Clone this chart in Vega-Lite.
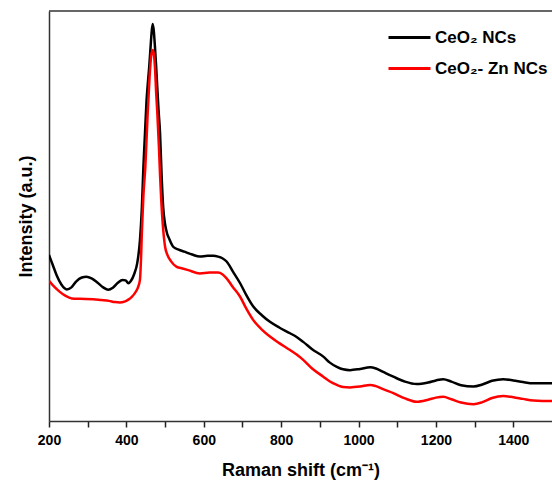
{
  "$schema": "https://vega.github.io/schema/vega-lite/v6.json",
  "width": 503,
  "height": 410,
  "autosize": "none",
  "padding": {"left": 49, "top": 11, "right": 0, "bottom": 69},
  "background": "white",
  "config": {
    "view": {"stroke": null},
    "font": "Liberation Sans",
    "axis": {"grid": false}
  },
  "datasets": {
    "spectra": [
      {"shift": 200, "intensity": 40.5, "sample": "CeO₂ NCs"},
      {"shift": 210, "intensity": 38.0, "sample": "CeO₂ NCs"},
      {"shift": 220, "intensity": 35.5, "sample": "CeO₂ NCs"},
      {"shift": 232, "intensity": 33.3, "sample": "CeO₂ NCs"},
      {"shift": 246, "intensity": 32.1, "sample": "CeO₂ NCs"},
      {"shift": 258, "intensity": 32.6, "sample": "CeO₂ NCs"},
      {"shift": 270, "intensity": 34.0, "sample": "CeO₂ NCs"},
      {"shift": 285, "intensity": 35.0, "sample": "CeO₂ NCs"},
      {"shift": 297, "intensity": 35.2, "sample": "CeO₂ NCs"},
      {"shift": 310, "intensity": 34.8, "sample": "CeO₂ NCs"},
      {"shift": 325, "intensity": 33.8, "sample": "CeO₂ NCs"},
      {"shift": 340, "intensity": 32.6, "sample": "CeO₂ NCs"},
      {"shift": 353, "intensity": 32.0, "sample": "CeO₂ NCs"},
      {"shift": 365, "intensity": 32.5, "sample": "CeO₂ NCs"},
      {"shift": 378, "intensity": 33.7, "sample": "CeO₂ NCs"},
      {"shift": 390, "intensity": 34.4, "sample": "CeO₂ NCs"},
      {"shift": 398, "intensity": 34.3, "sample": "CeO₂ NCs"},
      {"shift": 405, "intensity": 33.6, "sample": "CeO₂ NCs"},
      {"shift": 412, "intensity": 34.2, "sample": "CeO₂ NCs"},
      {"shift": 420, "intensity": 35.8, "sample": "CeO₂ NCs"},
      {"shift": 428, "intensity": 38.5, "sample": "CeO₂ NCs"},
      {"shift": 435, "intensity": 44.0, "sample": "CeO₂ NCs"},
      {"shift": 440, "intensity": 52.0, "sample": "CeO₂ NCs"},
      {"shift": 444, "intensity": 62.0, "sample": "CeO₂ NCs"},
      {"shift": 448, "intensity": 70.0, "sample": "CeO₂ NCs"},
      {"shift": 452, "intensity": 78.0, "sample": "CeO₂ NCs"},
      {"shift": 456, "intensity": 83.0, "sample": "CeO₂ NCs"},
      {"shift": 459, "intensity": 86.4, "sample": "CeO₂ NCs"},
      {"shift": 462, "intensity": 90.5, "sample": "CeO₂ NCs"},
      {"shift": 465, "intensity": 94.5, "sample": "CeO₂ NCs"},
      {"shift": 468, "intensity": 96.8, "sample": "CeO₂ NCs"},
      {"shift": 471, "intensity": 95.0, "sample": "CeO₂ NCs"},
      {"shift": 474, "intensity": 91.0, "sample": "CeO₂ NCs"},
      {"shift": 477, "intensity": 86.4, "sample": "CeO₂ NCs"},
      {"shift": 480, "intensity": 81.0, "sample": "CeO₂ NCs"},
      {"shift": 483, "intensity": 76.0, "sample": "CeO₂ NCs"},
      {"shift": 487, "intensity": 70.2, "sample": "CeO₂ NCs"},
      {"shift": 491, "intensity": 60.0, "sample": "CeO₂ NCs"},
      {"shift": 495, "intensity": 52.3, "sample": "CeO₂ NCs"},
      {"shift": 500, "intensity": 48.0, "sample": "CeO₂ NCs"},
      {"shift": 505, "intensity": 45.8, "sample": "CeO₂ NCs"},
      {"shift": 510, "intensity": 44.6, "sample": "CeO₂ NCs"},
      {"shift": 521, "intensity": 42.5, "sample": "CeO₂ NCs"},
      {"shift": 535, "intensity": 41.8, "sample": "CeO₂ NCs"},
      {"shift": 550, "intensity": 41.3, "sample": "CeO₂ NCs"},
      {"shift": 570, "intensity": 40.6, "sample": "CeO₂ NCs"},
      {"shift": 590, "intensity": 40.1, "sample": "CeO₂ NCs"},
      {"shift": 610, "intensity": 40.3, "sample": "CeO₂ NCs"},
      {"shift": 625, "intensity": 40.3, "sample": "CeO₂ NCs"},
      {"shift": 637, "intensity": 40.1, "sample": "CeO₂ NCs"},
      {"shift": 648, "intensity": 39.7, "sample": "CeO₂ NCs"},
      {"shift": 659, "intensity": 38.9, "sample": "CeO₂ NCs"},
      {"shift": 675, "intensity": 36.5, "sample": "CeO₂ NCs"},
      {"shift": 694, "intensity": 33.6, "sample": "CeO₂ NCs"},
      {"shift": 710, "intensity": 30.7, "sample": "CeO₂ NCs"},
      {"shift": 728, "intensity": 27.9, "sample": "CeO₂ NCs"},
      {"shift": 750, "intensity": 25.8, "sample": "CeO₂ NCs"},
      {"shift": 771, "intensity": 24.2, "sample": "CeO₂ NCs"},
      {"shift": 795, "intensity": 22.8, "sample": "CeO₂ NCs"},
      {"shift": 823, "intensity": 21.4, "sample": "CeO₂ NCs"},
      {"shift": 840, "intensity": 20.5, "sample": "CeO₂ NCs"},
      {"shift": 857, "intensity": 19.3, "sample": "CeO₂ NCs"},
      {"shift": 880, "intensity": 17.5, "sample": "CeO₂ NCs"},
      {"shift": 909, "intensity": 15.7, "sample": "CeO₂ NCs"},
      {"shift": 925, "intensity": 14.3, "sample": "CeO₂ NCs"},
      {"shift": 944, "intensity": 13.2, "sample": "CeO₂ NCs"},
      {"shift": 960, "intensity": 12.6, "sample": "CeO₂ NCs"},
      {"shift": 978, "intensity": 12.4, "sample": "CeO₂ NCs"},
      {"shift": 1004, "intensity": 12.7, "sample": "CeO₂ NCs"},
      {"shift": 1030, "intensity": 13.1, "sample": "CeO₂ NCs"},
      {"shift": 1045, "intensity": 12.8, "sample": "CeO₂ NCs"},
      {"shift": 1065, "intensity": 11.9, "sample": "CeO₂ NCs"},
      {"shift": 1090, "intensity": 10.8, "sample": "CeO₂ NCs"},
      {"shift": 1120, "intensity": 9.6, "sample": "CeO₂ NCs"},
      {"shift": 1150, "intensity": 9.0, "sample": "CeO₂ NCs"},
      {"shift": 1180, "intensity": 9.4, "sample": "CeO₂ NCs"},
      {"shift": 1200, "intensity": 9.9, "sample": "CeO₂ NCs"},
      {"shift": 1219, "intensity": 10.2, "sample": "CeO₂ NCs"},
      {"shift": 1240, "intensity": 9.6, "sample": "CeO₂ NCs"},
      {"shift": 1265, "intensity": 8.7, "sample": "CeO₂ NCs"},
      {"shift": 1297, "intensity": 8.4, "sample": "CeO₂ NCs"},
      {"shift": 1320, "intensity": 8.9, "sample": "CeO₂ NCs"},
      {"shift": 1345, "intensity": 9.8, "sample": "CeO₂ NCs"},
      {"shift": 1374, "intensity": 10.2, "sample": "CeO₂ NCs"},
      {"shift": 1400, "intensity": 9.9, "sample": "CeO₂ NCs"},
      {"shift": 1425, "intensity": 9.5, "sample": "CeO₂ NCs"},
      {"shift": 1452, "intensity": 9.2, "sample": "CeO₂ NCs"},
      {"shift": 1475, "intensity": 9.2, "sample": "CeO₂ NCs"},
      {"shift": 1500, "intensity": 9.2, "sample": "CeO₂ NCs"},

      {"shift": 200, "intensity": 34.2, "sample": "CeO₂- Zn NCs"},
      {"shift": 214, "intensity": 32.7, "sample": "CeO₂- Zn NCs"},
      {"shift": 228, "intensity": 31.5, "sample": "CeO₂- Zn NCs"},
      {"shift": 243, "intensity": 30.5, "sample": "CeO₂- Zn NCs"},
      {"shift": 259, "intensity": 29.9, "sample": "CeO₂- Zn NCs"},
      {"shift": 280, "intensity": 29.8, "sample": "CeO₂- Zn NCs"},
      {"shift": 314, "intensity": 29.7, "sample": "CeO₂- Zn NCs"},
      {"shift": 335, "intensity": 29.5, "sample": "CeO₂- Zn NCs"},
      {"shift": 355, "intensity": 29.3, "sample": "CeO₂- Zn NCs"},
      {"shift": 370, "intensity": 29.0, "sample": "CeO₂- Zn NCs"},
      {"shift": 383, "intensity": 28.9, "sample": "CeO₂- Zn NCs"},
      {"shift": 395, "intensity": 29.1, "sample": "CeO₂- Zn NCs"},
      {"shift": 405, "intensity": 29.6, "sample": "CeO₂- Zn NCs"},
      {"shift": 414, "intensity": 30.3, "sample": "CeO₂- Zn NCs"},
      {"shift": 422, "intensity": 31.2, "sample": "CeO₂- Zn NCs"},
      {"shift": 430, "intensity": 32.6, "sample": "CeO₂- Zn NCs"},
      {"shift": 435, "intensity": 34.4, "sample": "CeO₂- Zn NCs"},
      {"shift": 438, "intensity": 40.0, "sample": "CeO₂- Zn NCs"},
      {"shift": 440, "intensity": 46.0, "sample": "CeO₂- Zn NCs"},
      {"shift": 444, "intensity": 55.0, "sample": "CeO₂- Zn NCs"},
      {"shift": 449, "intensity": 62.0, "sample": "CeO₂- Zn NCs"},
      {"shift": 455, "intensity": 75.0, "sample": "CeO₂- Zn NCs"},
      {"shift": 460, "intensity": 84.0, "sample": "CeO₂- Zn NCs"},
      {"shift": 464, "intensity": 89.0, "sample": "CeO₂- Zn NCs"},
      {"shift": 468, "intensity": 90.5, "sample": "CeO₂- Zn NCs"},
      {"shift": 471, "intensity": 89.5, "sample": "CeO₂- Zn NCs"},
      {"shift": 474, "intensity": 86.0, "sample": "CeO₂- Zn NCs"},
      {"shift": 477, "intensity": 80.0, "sample": "CeO₂- Zn NCs"},
      {"shift": 480, "intensity": 75.0, "sample": "CeO₂- Zn NCs"},
      {"shift": 484, "intensity": 67.0, "sample": "CeO₂- Zn NCs"},
      {"shift": 487, "intensity": 60.0, "sample": "CeO₂- Zn NCs"},
      {"shift": 490, "intensity": 54.0, "sample": "CeO₂- Zn NCs"},
      {"shift": 494, "intensity": 48.0, "sample": "CeO₂- Zn NCs"},
      {"shift": 500, "intensity": 42.5, "sample": "CeO₂- Zn NCs"},
      {"shift": 506, "intensity": 40.5, "sample": "CeO₂- Zn NCs"},
      {"shift": 515, "intensity": 39.0, "sample": "CeO₂- Zn NCs"},
      {"shift": 530, "intensity": 37.6, "sample": "CeO₂- Zn NCs"},
      {"shift": 545, "intensity": 37.2, "sample": "CeO₂- Zn NCs"},
      {"shift": 560, "intensity": 36.8, "sample": "CeO₂- Zn NCs"},
      {"shift": 590, "intensity": 36.0, "sample": "CeO₂- Zn NCs"},
      {"shift": 615, "intensity": 36.2, "sample": "CeO₂- Zn NCs"},
      {"shift": 637, "intensity": 36.2, "sample": "CeO₂- Zn NCs"},
      {"shift": 648, "intensity": 35.8, "sample": "CeO₂- Zn NCs"},
      {"shift": 659, "intensity": 34.8, "sample": "CeO₂- Zn NCs"},
      {"shift": 675, "intensity": 32.7, "sample": "CeO₂- Zn NCs"},
      {"shift": 694, "intensity": 30.3, "sample": "CeO₂- Zn NCs"},
      {"shift": 710, "intensity": 27.4, "sample": "CeO₂- Zn NCs"},
      {"shift": 728, "intensity": 24.6, "sample": "CeO₂- Zn NCs"},
      {"shift": 750, "intensity": 22.3, "sample": "CeO₂- Zn NCs"},
      {"shift": 771, "intensity": 20.6, "sample": "CeO₂- Zn NCs"},
      {"shift": 795, "intensity": 19.0, "sample": "CeO₂- Zn NCs"},
      {"shift": 823, "intensity": 17.3, "sample": "CeO₂- Zn NCs"},
      {"shift": 840, "intensity": 16.2, "sample": "CeO₂- Zn NCs"},
      {"shift": 857, "intensity": 14.9, "sample": "CeO₂- Zn NCs"},
      {"shift": 880, "intensity": 12.8, "sample": "CeO₂- Zn NCs"},
      {"shift": 909, "intensity": 10.8, "sample": "CeO₂- Zn NCs"},
      {"shift": 925, "intensity": 9.7, "sample": "CeO₂- Zn NCs"},
      {"shift": 944, "intensity": 8.8, "sample": "CeO₂- Zn NCs"},
      {"shift": 960, "intensity": 8.3, "sample": "CeO₂- Zn NCs"},
      {"shift": 978, "intensity": 8.2, "sample": "CeO₂- Zn NCs"},
      {"shift": 1004, "intensity": 8.4, "sample": "CeO₂- Zn NCs"},
      {"shift": 1030, "intensity": 8.8, "sample": "CeO₂- Zn NCs"},
      {"shift": 1045, "intensity": 8.5, "sample": "CeO₂- Zn NCs"},
      {"shift": 1065, "intensity": 7.7, "sample": "CeO₂- Zn NCs"},
      {"shift": 1090, "intensity": 6.8, "sample": "CeO₂- Zn NCs"},
      {"shift": 1120, "intensity": 5.5, "sample": "CeO₂- Zn NCs"},
      {"shift": 1150, "intensity": 4.7, "sample": "CeO₂- Zn NCs"},
      {"shift": 1180, "intensity": 5.2, "sample": "CeO₂- Zn NCs"},
      {"shift": 1200, "intensity": 5.7, "sample": "CeO₂- Zn NCs"},
      {"shift": 1219, "intensity": 5.9, "sample": "CeO₂- Zn NCs"},
      {"shift": 1240, "intensity": 5.3, "sample": "CeO₂- Zn NCs"},
      {"shift": 1265, "intensity": 4.5, "sample": "CeO₂- Zn NCs"},
      {"shift": 1297, "intensity": 4.1, "sample": "CeO₂- Zn NCs"},
      {"shift": 1320, "intensity": 4.6, "sample": "CeO₂- Zn NCs"},
      {"shift": 1345, "intensity": 5.6, "sample": "CeO₂- Zn NCs"},
      {"shift": 1374, "intensity": 6.1, "sample": "CeO₂- Zn NCs"},
      {"shift": 1400, "intensity": 5.8, "sample": "CeO₂- Zn NCs"},
      {"shift": 1425, "intensity": 5.4, "sample": "CeO₂- Zn NCs"},
      {"shift": 1452, "intensity": 5.0, "sample": "CeO₂- Zn NCs"},
      {"shift": 1475, "intensity": 4.9, "sample": "CeO₂- Zn NCs"},
      {"shift": 1500, "intensity": 4.9, "sample": "CeO₂- Zn NCs"}
    ]
  },
  "layer": [
    {
      "data": {"name": "spectra"},
      "mark": {"type": "line", "strokeWidth": 2.5, "interpolate": "monotone", "clip": true},
      "encoding": {
        "x": {
          "field": "shift",
          "type": "quantitative",
          "scale": {"domain": [200, 1500], "nice": false, "zero": false},
          "axis": {
            "title": "Raman shift (cm⁻¹)",
            "values": [200, 300, 400, 500, 600, 700, 800, 900, 1000, 1100, 1200, 1300, 1400],
            "labelExpr": "datum.value % 200 == 0 ? datum.label : ''",
            "format": "d",
            "labelFlush": false,
            "labelOverlap": false,
            "labelFontSize": 14,
            "labelFontWeight": "bold",
            "labelColor": "#000000",
            "labelPadding": 6,
            "tickSize": 6,
            "tickWidth": 1.5,
            "tickColor": "#222222",
            "domainColor": "#333333",
            "domainWidth": 1.5,
            "titleFontSize": 18,
            "titleFontWeight": "bold",
            "titleColor": "#000000",
            "titlePadding": 14
          }
        },
        "y": {
          "field": "intensity",
          "type": "quantitative",
          "scale": {"domain": [0, 100], "nice": false},
          "axis": {
            "title": "Intensity (a.u.)",
            "labels": false,
            "ticks": false,
            "domainColor": "#333333",
            "domainWidth": 1.5,
            "titleFontSize": 18,
            "titleFontWeight": "bold",
            "titleColor": "#000000",
            "titlePadding": 14
          }
        },
        "color": {
          "field": "sample",
          "type": "nominal",
          "scale": {"domain": ["CeO₂ NCs", "CeO₂- Zn NCs"], "range": ["#000000", "#ff0000"]},
          "legend": {
            "title": null,
            "orient": "top-right",
            "offset": 4,
            "symbolSize": 1764,
            "symbolStrokeWidth": 3,
            "labelFontSize": 17,
            "labelFontWeight": "bold",
            "labelColor": "#000000",
            "labelOffset": 3,
            "rowPadding": 0
          }
        }
      }
    },
    {
      "data": {"values": [{"shift": 200, "intensity": 100}, {"shift": 1500, "intensity": 100}]},
      "mark": {"type": "line", "color": "#333333", "strokeWidth": 1.5},
      "encoding": {
        "x": {"field": "shift", "type": "quantitative"},
        "y": {"field": "intensity", "type": "quantitative"}
      }
    }
  ]
}
